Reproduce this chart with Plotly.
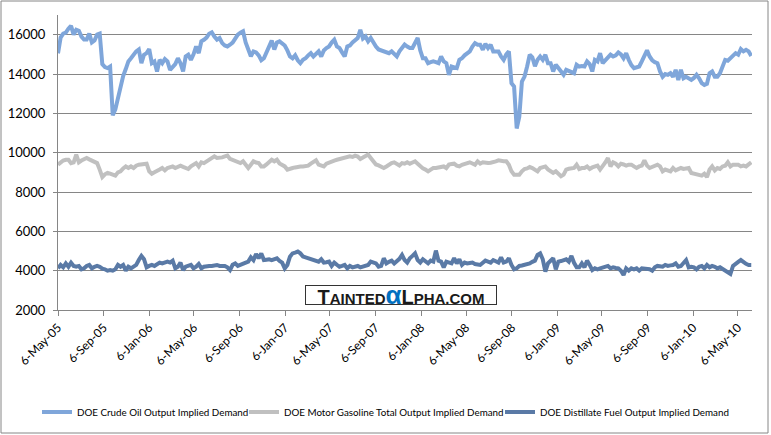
import pandas as pd
import plotly.graph_objects as go

start_date = "2005-05-06"

crude = [
    15050, 15850, 16050, 16100, 16300, 16450, 16000, 16250, 16200, 15900,
    15750, 15750, 16050, 15600, 15700, 16000, 16050, 14500, 14350, 14300,
    14380, 11900, 12200, 12800, 13450, 13900, 14250, 14640, 14800, 15000,
    15150, 15250, 14550, 14980, 15060, 15270, 14550, 14640, 14130, 14720,
    14550, 14760, 14640, 14210, 14380, 14500, 14800, 14550, 14130, 14890,
    14980, 14720, 15000, 15400, 15060, 15660, 15740, 15850, 16050, 16120,
    15900, 15750, 15830, 15570, 15450, 15400, 15490, 15600, 15800, 16000,
    16100, 16170, 15600, 15200, 14900, 15150, 15100, 14950, 14700, 14800,
    15100, 15500, 15700, 15250, 15600, 15660, 15570, 15450, 15200, 14890,
    14800, 14950, 14700, 14550, 14720, 14800, 14950, 15060, 14890, 15050,
    15150, 14890, 15200, 15320, 15400, 15600, 15740, 15400, 15320, 15100,
    14890, 15400, 15450, 15600, 15740, 15830, 16250, 15800, 15910, 15660,
    15830, 15600, 15400, 15250, 15200, 15150, 15100, 15060, 15150, 15000,
    14890, 15150, 15300, 15500, 15400, 15320, 15320, 15550, 15830, 15200,
    14800, 14800, 14550, 14600, 14640, 14600, 14550, 14890, 14640, 14550,
    13960, 14380, 14350, 14300, 14720, 14800, 14950, 15060, 15150, 15400,
    15570, 15490, 15490, 15230, 15530, 15320, 15490, 15150, 15150, 15150,
    14890, 14720, 15000, 15150, 13530, 13360, 11230, 11830, 13610, 13870,
    14380, 14980, 14850, 14400, 14720, 14890, 14720, 14980, 14550, 14550,
    14130, 14470, 14300, 14100, 13960, 14210, 14150, 14130, 14040, 14470,
    14380, 14400, 14380, 14640, 14500, 14130, 14720, 14640, 15060, 14550,
    14700, 14800, 14980, 14890, 14950, 15100, 15000, 14800, 15060, 14720,
    14450, 14300, 14350, 14380, 14640, 14980, 15200, 14890, 14700, 14600,
    14550, 14130, 13860, 14000, 13960, 14040, 13860, 14210, 13700, 14210,
    13780, 13860, 13780, 13700, 13800, 13960, 13780, 13530, 13440, 13500,
    14040, 14130, 13860, 13860, 14040, 14400, 14720, 14680, 14800, 14890,
    15060, 14980, 15270, 15150, 15230, 15150, 14920,
]

gasoline = [
    9390, 9500, 9600, 9640, 9640, 9470, 9510, 9900, 9510, 9600,
    9640, 9730, 9660, 9600, 9530, 9470, 9140, 8760, 8900, 8970,
    8930, 8880, 8830, 9000, 9050, 9200, 9300, 9220, 9300, 9220,
    9340, 9390, 9390, 9400, 9440, 9050, 8930, 9000, 9100, 9140,
    9220, 9100, 9220, 9260, 9300, 9220, 9300, 9340, 9280, 9220,
    9170, 9300, 9400, 9470, 9300, 9510, 9470, 9560, 9640, 9750,
    9810, 9730, 9730, 9760, 9810, 9850, 9680, 9640, 9600, 9560,
    9470, 9560, 9400, 9220, 9390, 9560, 9500, 9470, 9300, 9300,
    9400, 9510, 9640, 9560, 9640, 9450, 9390, 9300, 9140, 9200,
    9220, 9250, 9300, 9300, 9300, 9320, 9340, 9440, 9510, 9610,
    9390, 9350, 9300, 9440, 9510, 9560, 9600, 9640, 9680, 9730,
    9730, 9760, 9810, 9780, 9850, 9800, 9680, 9750, 9810, 9900,
    9730, 9550, 9400, 9350, 9300, 9220, 9300, 9400, 9470, 9510,
    9440, 9350, 9470, 9440, 9510, 9440, 9500, 9560, 9440, 9300,
    9200, 9140, 9050, 9140, 9220, 9220, 9250, 9270, 9300, 9220,
    9390, 9420, 9440, 9340, 9300, 9380, 9440, 9470, 9510, 9450,
    9390, 9560, 9440, 9510, 9470, 9470, 9490, 9510, 9560, 9610,
    9560, 9560, 9560, 9390, 9050, 8880, 8880, 8880, 9050, 9170,
    9200, 9270, 9220, 9140, 9050, 9220, 9260, 9300, 9150, 9050,
    8970, 9050, 8900, 8800, 8880, 9140, 9180, 9220, 9220, 9390,
    9170, 9220, 9220, 9300, 9170, 9250, 9300, 9340, 9140, 9300,
    9500, 9730, 9300, 9510, 9440, 9300, 9440, 9400, 9340, 9390,
    9390, 9300, 9220, 9300, 9340, 9610, 9340, 9220, 9260, 9300,
    9390, 9300, 9050, 9140, 9100, 9050, 9220, 9100, 9160, 9220,
    9170, 9220, 9220, 8970, 8930, 8880, 8830, 8830, 8930, 8760,
    9140, 9300, 9100, 9220, 9170, 9300, 9340, 9510, 9300, 9390,
    9390, 9390, 9300, 9340, 9300, 9440, 9510,
]

distillate = [
    4120, 4290, 4170, 4370, 4200, 4410, 4240, 4200, 4240, 4070,
    4120, 4240, 4290, 4120, 4200, 4240, 4200, 4100, 4070, 4000,
    4030, 4000, 4070, 4290, 4200, 4290, 4000, 4200, 4120, 4200,
    4290, 4540, 4750, 4580, 4170, 4240, 4290, 4240, 4300, 4410,
    4370, 4400, 4460, 4410, 4510, 4120, 4200, 4410, 4030, 4200,
    4250, 4290, 4120, 4200, 4340, 4120, 4200, 4240, 4240, 4240,
    4270, 4290, 4240, 4240, 4240, 4170, 4030, 4300, 4370, 4240,
    4290, 4350, 4410, 4460, 4680, 4540, 4850, 4630, 4880, 4540,
    4560, 4580, 4540, 4580, 4630, 4500, 4410, 4120, 4290, 4710,
    4880, 4920, 4970, 4880, 4720, 4680, 4630, 4580, 4540, 4500,
    4460, 4580, 4410, 4430, 4460, 4240, 4410, 4300, 4200, 4240,
    4290, 4120, 4240, 4170, 4200, 4240, 4170, 4200, 4240, 4290,
    4460, 4400, 4370, 4200, 4240, 4630, 4370, 4450, 4510, 4370,
    4460, 4600, 4800, 4540, 4410, 4630, 4750, 4880, 4540, 4410,
    4580, 4450, 4370, 4510, 4460, 5020, 4510, 4460, 4170, 4460,
    4420, 4370, 4630, 4370, 4580, 4290, 4410, 4370, 4390, 4410,
    4340, 4290, 4290, 4400, 4510, 4460, 4410, 4540, 4470, 4410,
    4680, 4410, 4460, 4630, 4290, 4070, 4120, 4240, 4260, 4290,
    4290, 4370, 4450, 4510, 4800, 4880, 4580, 3950, 4370, 4510,
    4630, 4070, 4460, 4490, 4510, 4580, 4460, 4750, 4400, 4170,
    4170, 4370, 4170, 4510, 4290, 4030, 4120, 4070, 4120, 4150,
    4200, 4240, 4120, 4170, 4140, 4120, 4000, 3780, 4120, 4000,
    4120, 4070, 4120, 4000, 4120, 4120, 4100, 4070, 4000, 4170,
    4240, 4240, 4200, 4290, 4240, 4270, 4290, 4370, 4200, 4240,
    4400, 4540, 4170, 4200, 4170, 4070, 4200, 4240, 4120, 4290,
    4170, 4240, 4200, 4120, 4170, 4070, 4000, 3900, 3830, 4240,
    4370, 4450, 4540, 4430, 4350, 4290, 4290,
]

tick_dates = [
    "2005-05-06", "2005-09-06", "2006-01-06", "2006-05-06", "2006-09-06",
    "2007-01-06", "2007-05-06", "2007-09-06", "2008-01-06", "2008-05-06",
    "2008-09-06", "2009-01-06", "2009-05-06", "2009-09-06", "2010-01-06",
    "2010-05-06",
]
tick_labels = [
    "6-May-05", "6-Sep-05", "6-Jan-06", "6-May-06", "6-Sep-06",
    "6-Jan-07", "6-May-07", "6-Sep-07", "6-Jan-08", "6-May-08",
    "6-Sep-08", "6-Jan-09", "6-May-09", "6-Sep-09", "6-Jan-10",
    "6-May-10",
]
y_ticks = [2000, 4000, 6000, 8000, 10000, 12000, 14000, 16000]

series_names = [
    "DOE Crude Oil Output Implied Demand",
    "DOE Motor Gasoline Total Output Implied Demand",
    "DOE Distillate Fuel Output Implied Demand",
]
series_colors = ["#7FA6DA", "#C0C0C0", "#5A7AA6"]

n = min(len(crude), len(gasoline), len(distillate))
dates = pd.date_range(start_date, periods=n, freq="7D")

FONT = "Lato"
grid = "#868686"
W, H = 771, 435
L, R, T, B = 58, 19, 15, 125
PW, PH = W - L - R, H - T - B

legend_ids = ["legend", "legend2", "legend3"]
legend_left_px = [37, 244, 500]

fig = go.Figure()
for name, vals, col, lid in zip(series_names, [crude, gasoline, distillate],
                                series_colors, legend_ids):
    fig.add_trace(go.Scatter(
        x=dates, y=vals[:n], mode="lines", name=name, legend=lid,
        line=dict(color=col, width=4),
    ))

legend_layout = {}
for lid, lx in zip(legend_ids, legend_left_px):
    legend_layout[lid] = dict(
        orientation="h",
        x=(lx - L) / PW, xanchor="left", y=(H - B - 412) / PH, yanchor="middle",
        font=dict(family=FONT, size=9.8, color="black"),
        itemwidth=30, bgcolor="rgba(0,0,0,0)",
    )

fig.update_layout(
    width=W, height=H,
    margin=dict(l=L, r=R, t=T, b=B, autoexpand=False),
    paper_bgcolor="white", plot_bgcolor="white",
    font=dict(family=FONT, size=12, color="black"),
    showlegend=True,
    xaxis=dict(
        type="date", range=["2005-05-06", "2010-06-13"],
        tickvals=tick_dates, ticktext=tick_labels, tickangle=-45,
        showgrid=False, showline=True, linecolor=grid, linewidth=1,
        ticks="outside", ticklen=5, tickcolor=grid,
        tickfont=dict(family=FONT, size=12, color="black"),
        zeroline=False, automargin=False,
    ),
    yaxis=dict(
        range=[2000, 17000], tickvals=y_ticks,
        ticktext=[str(v) for v in y_ticks],
        showgrid=True, gridcolor=grid, gridwidth=1,
        showline=True, linecolor=grid, linewidth=1,
        ticks="outside", ticklen=4, tickcolor=grid,
        ticklabelstandoff=5,
        tickfont=dict(family=FONT, size=13, color="black"),
        zeroline=False, automargin=False,
    ),
    **legend_layout,
)

# outer chart border
fig.add_shape(type="rect", xref="paper", yref="paper",
              x0=(1 - L) / PW, x1=(768 - L) / PW,
              y0=(H - B - 433) / PH, y1=(H - B - 1) / PH,
              line=dict(color="#868686", width=1), fillcolor="rgba(0,0,0,0)",
              layer="below")

# watermark
wm = ("<b><span style='font-size:20px'>T</span>AINTED"
      "<span style='font-size:26px;color:#0070C0'>α</span>"
      "<span style='font-size:20px'>L</span>PHA.COM</b>")
fig.add_annotation(
    x=(400.5 - L) / PW, y=(H - B - 294.5) / PH, xref="paper", yref="paper",
    xanchor="center", yanchor="middle", text=wm, showarrow=False,
    font=dict(family="Liberation Sans", size=15, color="#1a1a1a"),
    bordercolor="#333333", borderwidth=1, borderpad=0, bgcolor="white",
    width=190, height=18,
)

fig.write_html(
    "out.html",
    config={"displayModeBar": False},
    post_script="document.body.style.margin='0px';document.body.style.overflow='hidden';",
)
